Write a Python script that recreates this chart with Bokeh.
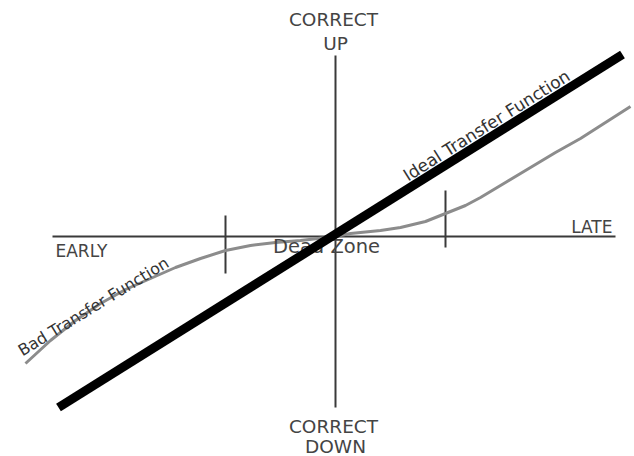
from bokeh.plotting import figure
from bokeh.models import Range1d
from bokeh.core.properties import value
from bokeh.embed import file_html
from bokeh.resources import INLINE

# Axis lines (timing error on x, correction on y)
h_axis_x = [-283, 280]
h_axis_y = [0, 0]
v_axis_x = [0, 0]
v_axis_y = [181, -171]

# Dead-zone boundary ticks
tick_x = [-110, 110]
tick_y0 = [-37, -11]
tick_y1 = [21, 46]

# Ideal transfer function (straight)
ideal_x = [-277, 287]
ideal_y = [-171, 182]

# Bad transfer function (with dead zone)
bad_x = [-310, -285, -260, -235, -210, -185, -160, -135, -110, -85, -60, -35, 0,
         15, 45, 65, 90, 110, 130, 145, 170, 195, 220, 245, 270, 295]
bad_y = [-127, -104, -84, -67, -53, -42, -31, -22, -14, -9, -6, -4, 0,
         3, 6, 9, 15, 23, 31, 39, 54, 69, 84, 98, 114, 130]

# Labels
lab_text = ["CORRECT", "UP", "CORRECT", "DOWN", "EARLY", "LATE"]
lab_x = [-2, 0, -2, 0, -280, 277]
lab_y = [217, 193, -190, -210, -14, 10]
lab_align = ["center", "center", "center", "center", "left", "right"]
lab_size = ["18.5px", "18.5px", "18.5px", "18.5px", "17px", "17px"]

dead_text = ["Dead Zone"]
dead_x = [-9]
dead_y = [-10]

curve_text = ["Bad Transfer Function", "Ideal Transfer Function"]
curve_tx = [-242, 151]
curve_ty = [-70, 111]
curve_angle = [0.55, 0.56]
curve_size = ["16px", "17px"]

p = figure(width=634, height=456, output_backend="svg", toolbar_location=None,
           x_range=Range1d(-335, 299), y_range=Range1d(-220, 236),
           x_axis_type=None, y_axis_type=None, min_border=0)
p.outline_line_color = None
p.xgrid.visible = False
p.ygrid.visible = False
p.background_fill_color = "white"
p.border_fill_color = "white"

axis_col = "#3a3a3a"
p.line(h_axis_x, h_axis_y, line_color=axis_col, line_width=2)
p.line(v_axis_x, v_axis_y, line_color=axis_col, line_width=2)
p.segment(x0=tick_x, y0=tick_y0, x1=tick_x, y1=tick_y1, line_color=axis_col, line_width=2)

p.line(bad_x, bad_y, line_color="#8c8c8c", line_width=3)

p.text(x=dead_x, y=dead_y, text=dead_text, text_font=value("DejaVu Sans"),
       text_font_size="19.5px", text_color="#444444", text_align="center",
       text_baseline="middle")

p.line(ideal_x, ideal_y, line_color="black", line_width=9)

for t, x, y, a, s in zip(lab_text, lab_x, lab_y, lab_align, lab_size):
    p.text(x=[x], y=[y], text=[t], text_font=value("DejaVu Sans"),
           text_font_size=s, text_color="#444444", text_align=a,
           text_baseline="middle")

for t, x, y, ang, s in zip(curve_text, curve_tx, curve_ty, curve_angle, curve_size):
    p.text(x=[x], y=[y], text=[t], angle=ang,
           text_font=value("DejaVu Sans"), text_font_size=s,
           text_color="#333333", text_align="center", text_baseline="middle")

open("out.html", "w").write(file_html(p, INLINE))
